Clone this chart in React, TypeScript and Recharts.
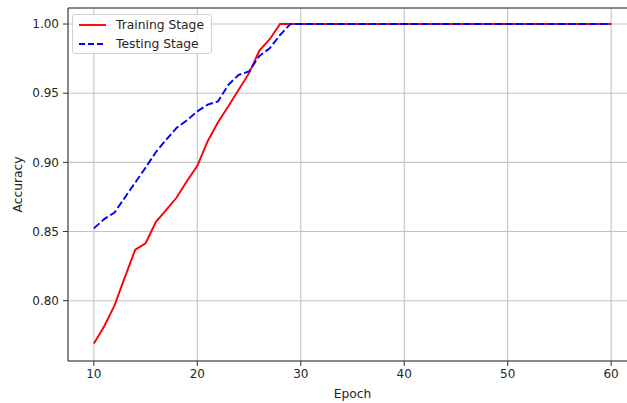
import { LineChart, Line, XAxis, YAxis, CartesianGrid, ReferenceLine } from "recharts";

const epochs = [
  10, 11, 12, 13, 14, 15, 16, 17, 18, 19, 20, 21, 22, 23, 24, 25, 26, 27, 28, 29,
  30, 31, 32, 33, 34, 35, 36, 37, 38, 39, 40, 41, 42, 43, 44, 45, 46, 47, 48, 49,
  50, 51, 52, 53, 54, 55, 56, 57, 58, 59, 60,
];

const trainingHead = [
  0.769, 0.7815, 0.7966, 0.817, 0.8369, 0.8415, 0.857, 0.8657, 0.8746, 0.8866,
  0.8975, 0.9153, 0.929, 0.9405, 0.9525, 0.9645, 0.9808, 0.989, 1.0,
];

const testingHead = [
  0.8523, 0.859, 0.8638, 0.8746, 0.8854, 0.8962, 0.9075, 0.9165, 0.925, 0.9304,
  0.9369, 0.9417, 0.9441, 0.9561, 0.9633, 0.9657, 0.977, 0.9825, 0.9921, 1.0,
];

const xTicks = [10, 20, 30, 40, 50, 60];
const yTicks = [0.8, 0.85, 0.9, 0.95, 1.0];

const Y_MIN = 0.7564;
const Y_MAX = 1.0116;

// after the curves reach 1.0 they stay there
const data = epochs.map((e, i) => ({
  epoch: e,
  training: i < trainingHead.length ? trainingHead[i] : 1.0,
  testing: i < testingHead.length ? testingHead[i] : 1.0,
}));

const font = "'DejaVu Sans', sans-serif";
const textColor = "#262626";
const spine = "#333333";

const series = [
  { key: "training", label: "Training Stage", color: "#ff0000", dash: undefined as string | undefined },
  { key: "testing", label: "Testing Stage", color: "#0000ff", dash: "7.5 3" },
];

function LegendBox() {
  return (
    <div
      style={{
        position: "absolute",
        left: 72,
        top: 14,
        width: 138,
        height: 38,
        border: "1px solid #d4d4d4",
        borderRadius: 3,
        background: "rgba(255,255,255,0.85)",
        fontFamily: font,
        fontSize: 12.3,
        color: textColor,
      }}
    >
      {series.map((r, i) => (
        <div
          key={r.key}
          style={{ position: "absolute", left: 6, top: 1 + i * 19.3, height: 18, display: "flex", alignItems: "center", whiteSpace: "nowrap" }}
        >
          <svg width={27} height={10} style={{ marginRight: 10 }}>
            <line x1={0} y1={5} x2={27} y2={5} stroke={r.color} strokeWidth={1.9} strokeDasharray={r.dash ? "6 3" : undefined} />
          </svg>
          <span>{r.label}</span>
        </div>
      ))}
    </div>
  );
}

export default function App() {
  return (
    <div style={{ position: "absolute", top: 0, left: 0, width: 627, height: 403, overflow: "hidden", background: "#fff" }}>
      <LineChart width={640} height={403} data={data} margin={{ top: 8, right: 3, bottom: 0, left: 8 }}>
        <CartesianGrid stroke="#c4c4c4" strokeWidth={1.1} />
        <XAxis
          dataKey="epoch"
          type="number"
          domain={[7.5, 62.5]}
          ticks={xTicks}
          height={42}
          tickSize={5}
          tickMargin={3}
          stroke={spine}
          tick={{ fill: textColor, fontSize: 12, fontFamily: font }}
          label={{ value: "Epoch", position: "insideBottom", offset: 5, fill: textColor, fontSize: 12.3, fontFamily: font }}
        />
        <YAxis
          type="number"
          domain={[Y_MIN, Y_MAX]}
          ticks={yTicks}
          width={60}
          tickSize={5}
          tickMargin={4}
          stroke={spine}
          allowDataOverflow
          tickFormatter={(v: number) => v.toFixed(2)}
          tick={{ fill: textColor, fontSize: 12, fontFamily: font }}
          label={{
            value: "Accuracy",
            angle: -90,
            position: "insideLeft",
            offset: 10,
            fill: textColor,
            fontSize: 12.3,
            fontFamily: font,
            style: { textAnchor: "middle" },
          }}
        />
        <ReferenceLine y={Y_MAX} stroke={spine} strokeWidth={1} />
        {series.map((s) => (
          <Line
            key={s.key}
            type="linear"
            dataKey={s.key}
            name={s.label}
            stroke={s.color}
            strokeWidth={1.9}
            strokeDasharray={s.dash}
            dot={false}
            isAnimationActive={false}
          />
        ))}
      </LineChart>
      <LegendBox />
    </div>
  );
}
